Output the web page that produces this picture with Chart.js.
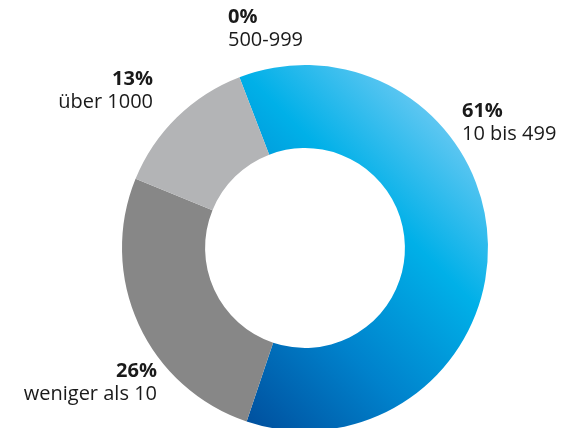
<!DOCTYPE html>
<html>
<head>
<meta charset="utf-8">
<script src="https://cdn.jsdelivr.net/npm/chart.js@4"></script>
<style>
    html, body { margin: 0; padding: 0; background: #fff; overflow: hidden; }
    #wrap { width: 577px; height: 440px; position: relative; }
</style>
</head>
<body>
<div id="wrap"><canvas id="sizeChart"></canvas></div>
<script>
// Anteile nach Groesse
const categories = ['10 bis 499', 'weniger als 10', 'über 1000', '500-999'];
const shares = [61, 26, 13, 0];
const percentLabels = ['61%', '26%', '13%', '0%'];

// label anchors (x, y of the bold line baseline, alignment)
const labelPos = [
    { x: 462, y: 117, align: 'left' },
    { x: 157, y: 377, align: 'right' },
    { x: 153, y: 85, align: 'right' },
    { x: 228, y: 23, align: 'left' }
];

const greys = [null, '#878787', '#b3b4b6', '#b3b4b6'];

function blueGradient(chart) {
    const area = chart.chartArea;
    if (!area) return '#00aee6';
    const cx = (area.left + area.right) / 2;
    const cy = (area.top + area.bottom) / 2;
    const r = Math.min(area.right - area.left, area.bottom - area.top) / 2;
    const g = chart.ctx.createLinearGradient(cx - 0.62 * r, cy + 0.62 * r, cx + 0.77 * r, cy - 0.77 * r);
    g.addColorStop(0, '#0052a0');
    g.addColorStop(0.33, '#0082cc');
    g.addColorStop(0.67, '#00b0e8');
    g.addColorStop(1, '#6ccaf3');
    return g;
}

const outsideLabels = {
    id: 'outsideLabels',
    afterDraw(chart) {
        const ctx = chart.ctx;
        ctx.save();
        ctx.fillStyle = '#1a1a1a';
        ctx.textBaseline = 'alphabetic';
        categories.forEach((cat, i) => {
            const p = labelPos[i];
            ctx.textAlign = p.align;
            ctx.font = 'bold 20px "Open Sans"';
            ctx.fillText(percentLabels[i], p.x, p.y);
            ctx.font = '20px "Open Sans"';
            ctx.fillText(cat, p.x, p.y + 23);
        });
        ctx.restore();
    }
};

const ctx = document.getElementById('sizeChart').getContext('2d');

new Chart(ctx, {
    type: 'doughnut',
    data: {
        labels: categories,
        datasets: [{
            data: shares,
            backgroundColor: (c) => c.dataIndex === 0 ? blueGradient(c.chart) : greys[c.dataIndex],
            borderWidth: 0
        }]
    },
    options: {
        responsive: true,
        maintainAspectRatio: false,
        animation: false,
        rotation: -21,
        cutout: '54.6%',
        layout: {
            padding: { top: 65, bottom: 9, left: 122, right: 89 }
        },
        plugins: {
            legend: { display: false },
            tooltip: { enabled: false }
        }
    },
    plugins: [outsideLabels]
});
</script>
</body>
</html>
